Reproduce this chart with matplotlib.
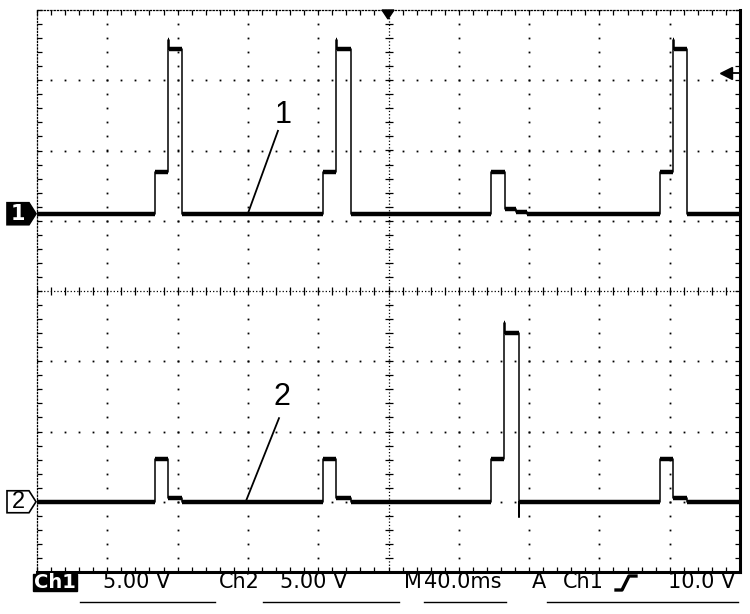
import numpy as np
import matplotlib
matplotlib.use("Agg")
import matplotlib.pyplot as plt
from matplotlib.patches import Polygon, Rectangle

# ----- scope settings -----
TIME_DIV = 40.0      # ms/div
VOLT_DIV = 5.0       # V/div
N_XDIV, N_YDIV = 10, 8
CH1_POS = 1.1        # ground marker position (div)
CH2_POS = -3.0
TRIG_LEVEL = 10.0    # V, on Ch1
TRIG_TIME = 200.0    # ms

# ----- traces: breakpoint times (ms) and level held until next breakpoint (V) -----
ch1_t = [0, 67.1, 74.5, 74.9, 82.6, 162.7, 170.1, 170.5, 178.7,
         258.3, 266.1, 272.5, 279.0, 354.5, 361.9, 362.3, 369.8, 400]
ch1_v = [0, 3.0, 12.4, 11.7, 0, 3.0, 12.4, 11.7, 0,
         3.0, 0.35, 0.1, 0, 3.0, 12.4, 11.7, 0, 0]

ch2_t = [0, 67.1, 74.5, 82.6, 162.7, 170.1, 178.7,
         258.1, 265.9, 266.3, 274.1, 274.4, 354.5, 361.9, 369.8, 400]
ch2_v = [0, 3.05, 0.25, 0, 3.05, 0.25, 0,
         3.05, 12.7, 12.0, -1.1, 0, 3.05, 0.25, 0, 0]

# ----- status bar -----
status_texts = ["5.00 V", "Ch2", "5.00 V", "M", "40.0ms", "A", "Ch1", "10.0 V"]
status_x = [103, 219, 280, 404, 424, 532, 563, 668]
underlines = [(80, 215), (263, 399), (424, 506), (547, 738)]

W, H = 750, 614


def fx(px):
    return px / W


def fy(py):
    return 1 - py / H


fig = plt.figure(figsize=(W / 100, H / 100), dpi=100)
fig.patch.set_facecolor("white")
ax = fig.add_axes([fx(37), fy(572), 703 / W, 562 / H])
xmax = N_XDIV * TIME_DIV
ax.set_xlim(0, xmax)
ax.set_ylim(-N_YDIV / 2, N_YDIV / 2)

# ----- frame -----
for s in ["left", "top"]:
    ax.spines[s].set_linestyle(":")
    ax.spines[s].set_linewidth(0.9)
for s in ["right", "bottom"]:
    ax.spines[s].set_linewidth(2.2)
ax.set_xticks(np.arange(0, xmax + 1, TIME_DIV))
ax.set_yticks(np.arange(-4, 5, 1))
ax.set_xticks(np.arange(0, xmax + 1, TIME_DIV / 5), minor=True)
ax.set_yticks(np.arange(-4, 4.01, 0.2), minor=True)
ax.tick_params(which="both", direction="in", top=True, right=True,
               length=3.5, width=0.9, labelbottom=False, labelleft=False)

# ----- graticule dots -----
ydots = np.arange(-4, 4.01, 0.2)
xdots = np.arange(0, xmax + 0.1, TIME_DIV / 5)
for i in range(1, N_XDIV):
    if i == N_XDIV // 2:
        continue
    ax.plot(np.full_like(ydots, i * TIME_DIV), ydots, "s", ms=1.3,
            color="black", mew=0)
for j in range(-3, 4):
    if j == 0:
        continue
    ax.plot(xdots, np.full_like(xdots, j), "s", ms=1.3, color="black", mew=0)

# center axes with tick marks
ax.axvline(xmax / 2, color="black", lw=0.9, ls=":")
ax.axhline(0, color="black", lw=0.9, ls=":")
ax.plot(np.full_like(ydots, xmax / 2), ydots, "_", ms=6, color="black", mew=0.9)
ax.plot(xdots, np.zeros_like(xdots), "|", ms=6, color="black", mew=0.9)

# ----- traces -----
for t, v, pos in [(ch1_t, ch1_v, CH1_POS), (ch2_t, ch2_v, CH2_POS)]:
    t = np.array(t)
    y = pos + np.array(v) / VOLT_DIV
    ax.step(t, y, where="post", color="black", lw=1.1)
    ax.hlines(y[:-1], t[:-1], t[1:], color="black", lw=3.2)

# trace labels with leader lines
ax.text(140.3, 2.50, "1", fontsize=22, ha="center", va="center",
        family="Liberation Sans")
ax.plot([137.1, 120.1], [2.28, 1.11], color="black", lw=1.3)
ax.text(139.4, -1.51, "2", fontsize=22, ha="center", va="center",
        family="Liberation Sans")
ax.plot([137.7, 118.9], [-1.81, -2.99], color="black", lw=1.3)

# trigger level arrow (right edge)
trig_y = CH1_POS + TRIG_LEVEL / VOLT_DIV
ax.plot([392.6, 399.4], [trig_y, trig_y], color="black", lw=1.3, clip_on=False)
ax.plot(392.0, trig_y, marker="<", ms=8, color="black", clip_on=False)

# trigger position marker (top)
fig.patches.append(Polygon([(fx(382), fy(10)), (fx(394), fy(10)), (fx(388), fy(19))],
                           closed=True, color="black", transform=fig.transFigure))

# ----- channel ground markers -----
def tag(py, fill):
    pts = [(7, py - 11), (29, py - 11), (36, py), (29, py + 11), (7, py + 11)]
    fig.patches.append(Polygon([(fx(a), fy(b)) for a, b in pts], closed=True,
                               facecolor=fill, edgecolor="black", lw=1.2,
                               transform=fig.transFigure))


def div_to_py(d):
    return 291 - d * 70.25


p1 = div_to_py(CH1_POS)
p2 = div_to_py(CH2_POS)
tag(p1, "black")
fig.text(fx(18), fy(p1), "1", color="white", fontsize=15, fontweight="bold",
         ha="center", va="center")
tag(p2, "white")
fig.text(fx(18), fy(p2), "2", color="black", fontsize=17,
         ha="center", va="center", family="Liberation Sans")

# ----- status bar -----
fig.patches.append(Rectangle((fx(33), fy(591)), fx(44), 17 / H, color="black",
                             transform=fig.transFigure))
fig.text(fx(55), fy(582), "Ch1", color="white", fontsize=14, fontweight="bold",
         ha="center", va="center")
for s, x in zip(status_texts, status_x):
    fig.text(fx(x), fy(582), s, color="black", fontsize=15, ha="left",
             va="center")
for x0, x1 in underlines:
    fig.add_artist(plt.Line2D([fx(x0), fx(x1)], [fy(602), fy(602)],
                              color="black", lw=1.0, transform=fig.transFigure))
# rising edge symbol
fig.add_artist(plt.Line2D([fx(616), fx(622), fx(629), fx(636)],
                          [fy(590), fy(590), fy(576), fy(576)],
                          color="black", lw=2.4, transform=fig.transFigure))

fig.savefig("out.png", dpi=100, facecolor="white")
